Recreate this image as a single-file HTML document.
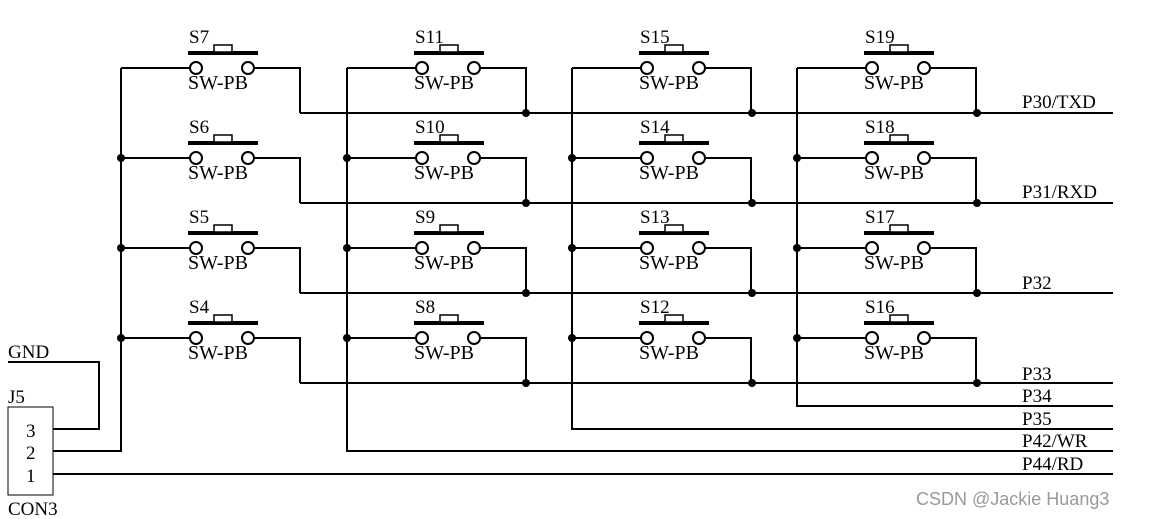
<!DOCTYPE html>
<html><head><meta charset="utf-8"><style>
html,body{margin:0;padding:0;background:#fff}
svg{display:block}
text{font-family:"Liberation Serif",serif;font-size:19px;fill:#000}
text.sw{font-size:20px}
</style></head><body>
<svg width="1149" height="519" viewBox="0 0 1149 519" xmlns="http://www.w3.org/2000/svg">
<defs>
<g id="sw">
<path d="M0 0H69 M134 0H179V45" fill="none" stroke="#000" stroke-width="2"/>
<rect x="67" y="-17" width="70" height="4" fill="#000"/>
<rect x="93" y="-23" width="18" height="7" fill="#fff" stroke="#000" stroke-width="1.5"/>
<circle cx="75" cy="0" r="6" fill="#fff" stroke="#000" stroke-width="2"/>
<circle cx="127" cy="0" r="6" fill="#fff" stroke="#000" stroke-width="2"/>
</g>
</defs>
<g fill="none" stroke="#000" stroke-width="2">
<path d="M300 113H1113 M300 203H1113 M300 293H1113 M300 383H1113"/>
<path d="M121 68V451H53"/>
<path d="M347 68V451H1113"/>
<path d="M572 68V429H1113"/>
<path d="M797 68V406H1113"/>
<path d="M53 474H1113"/>
<path d="M8 362H99V429H53"/>
</g>
<rect x="8" y="407" width="45" height="88" fill="none" stroke="#000" stroke-width="1"/>
<g>
<use href="#sw" x="121" y="68"/><use href="#sw" x="121" y="158"/><use href="#sw" x="121" y="248"/><use href="#sw" x="121" y="338"/>
<use href="#sw" x="347" y="68"/><use href="#sw" x="347" y="158"/><use href="#sw" x="347" y="248"/><use href="#sw" x="347" y="338"/>
<use href="#sw" x="572" y="68"/><use href="#sw" x="572" y="158"/><use href="#sw" x="572" y="248"/><use href="#sw" x="572" y="338"/>
<use href="#sw" x="797" y="68"/><use href="#sw" x="797" y="158"/><use href="#sw" x="797" y="248"/><use href="#sw" x="797" y="338"/>
</g>
<g fill="#000">
<circle cx="121" cy="158" r="4"/><circle cx="121" cy="248" r="4"/><circle cx="121" cy="338" r="4"/>
<circle cx="347" cy="158" r="4"/><circle cx="347" cy="248" r="4"/><circle cx="347" cy="338" r="4"/>
<circle cx="572" cy="158" r="4"/><circle cx="572" cy="248" r="4"/><circle cx="572" cy="338" r="4"/>
<circle cx="797" cy="158" r="4"/><circle cx="797" cy="248" r="4"/><circle cx="797" cy="338" r="4"/>
<circle cx="526" cy="113" r="4"/><circle cx="526" cy="203" r="4"/><circle cx="526" cy="293" r="4"/><circle cx="526" cy="383" r="4"/>
<circle cx="752" cy="113" r="4"/><circle cx="752" cy="203" r="4"/><circle cx="752" cy="293" r="4"/><circle cx="752" cy="383" r="4"/>
<circle cx="977" cy="113" r="4"/><circle cx="977" cy="203" r="4"/><circle cx="977" cy="293" r="4"/><circle cx="977" cy="383" r="4"/>
</g>
<text x="189" y="43">S7</text><text x="189" y="133">S6</text><text x="189" y="223">S5</text><text x="189" y="313">S4</text>
<text x="415" y="43">S11</text><text x="415" y="133">S10</text><text x="415" y="223">S9</text><text x="415" y="313">S8</text>
<text x="640" y="43">S15</text><text x="640" y="133">S14</text><text x="640" y="223">S13</text><text x="640" y="313">S12</text>
<text x="865" y="43">S19</text><text x="865" y="133">S18</text><text x="865" y="223">S17</text><text x="865" y="313">S16</text>
<g class="sw">
<text class="sw" x="188" y="89">SW-PB</text><text class="sw" x="188" y="179">SW-PB</text><text class="sw" x="188" y="269">SW-PB</text><text class="sw" x="188" y="359">SW-PB</text>
<text class="sw" x="414" y="89">SW-PB</text><text class="sw" x="414" y="179">SW-PB</text><text class="sw" x="414" y="269">SW-PB</text><text class="sw" x="414" y="359">SW-PB</text>
<text class="sw" x="639" y="89">SW-PB</text><text class="sw" x="639" y="179">SW-PB</text><text class="sw" x="639" y="269">SW-PB</text><text class="sw" x="639" y="359">SW-PB</text>
<text class="sw" x="864" y="89">SW-PB</text><text class="sw" x="864" y="179">SW-PB</text><text class="sw" x="864" y="269">SW-PB</text><text class="sw" x="864" y="359">SW-PB</text>
</g>
<text x="1022" y="108">P30/TXD</text>
<text x="1022" y="198">P31/RXD</text>
<text x="1022" y="289">P32</text>
<text x="1022" y="380">P33</text>
<text x="1022" y="402">P34</text>
<text x="1022" y="425">P35</text>
<text x="1022" y="447">P42/WR</text>
<text x="1022" y="470">P44/RD</text>
<text x="8" y="358">GND</text>
<text x="8" y="403">J5</text>
<text x="26" y="437">3</text>
<text x="26" y="459">2</text>
<text x="26" y="482">1</text>
<text x="8" y="515">CON3</text>
<text x="916" y="505" style="font-family:'Liberation Sans',sans-serif;font-size:18px;fill:#999">CSDN @Jackie Huang3</text>
</svg>
</body></html>
